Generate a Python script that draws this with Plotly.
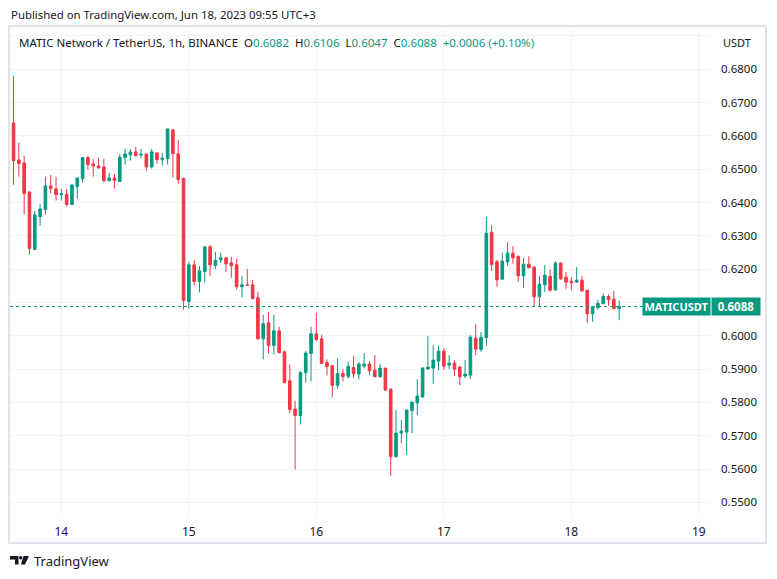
import plotly.graph_objects as go
import pandas as pd

# ---------------- data (1h candles, MATIC/USDT, UTC+3) ----------------
start_time = "2023-06-13 15:00"
opens = [0.6639, 0.6528, 0.6519, 0.6432, 0.6259, 0.6358, 0.6379, 0.6450, 0.6441, 0.6424,
         0.6425, 0.6394, 0.6448, 0.6472, 0.6535, 0.6516, 0.6510, 0.6507, 0.6466, 0.6474,
         0.6463, 0.6535, 0.6543, 0.6552, 0.6543, 0.6546, 0.6507, 0.6549, 0.6529, 0.6532,
         0.6618, 0.6546, 0.6472, 0.6103, 0.6213, 0.6163, 0.6193, 0.6267, 0.6211, 0.6228,
         0.6234, 0.6219, 0.6213, 0.6147, 0.6153, 0.6153, 0.6114, 0.5991, 0.6039, 0.5971,
         0.6015, 0.5952, 0.5865, 0.5780, 0.5761, 0.5889, 0.5947, 0.6006, 0.5991, 0.5920,
         0.5910, 0.5851, 0.5887, 0.5878, 0.5905, 0.5885, 0.5909, 0.5915, 0.5897, 0.5877,
         0.5903, 0.5840, 0.5637, 0.5708, 0.5711, 0.5775, 0.5799, 0.5816, 0.5900, 0.5903,
         0.5924, 0.5954, 0.5912, 0.5918, 0.5906, 0.5879, 0.5882, 0.5993, 0.5959, 0.5994,
         0.6311, 0.6222, 0.6170, 0.6222, 0.6248, 0.6239, 0.6180, 0.6215, 0.6206, 0.6117,
         0.6153, 0.6179, 0.6138, 0.6218, 0.6176, 0.6164, 0.6161, 0.6167, 0.6137, 0.6066,
         0.6084, 0.6096, 0.6118, 0.6110, 0.6082]
highs = [0.6781, 0.6580, 0.6540, 0.6432, 0.6375, 0.6396, 0.6477, 0.6483, 0.6477, 0.6441,
         0.6441, 0.6453, 0.6474, 0.6535, 0.6540, 0.6531, 0.6534, 0.6531, 0.6489, 0.6486,
         0.6546, 0.6561, 0.6561, 0.6567, 0.6561, 0.6546, 0.6561, 0.6549, 0.6549, 0.6621,
         0.6621, 0.6588, 0.6475, 0.6222, 0.6228, 0.6210, 0.6267, 0.6273, 0.6252, 0.6249,
         0.6237, 0.6237, 0.6231, 0.6180, 0.6201, 0.6168, 0.6132, 0.6063, 0.6072, 0.6063,
         0.6027, 0.5955, 0.5913, 0.5805, 0.5893, 0.5955, 0.6027, 0.6069, 0.6003, 0.5929,
         0.5910, 0.5932, 0.5899, 0.5923, 0.5939, 0.5921, 0.5948, 0.5924, 0.5942, 0.5915,
         0.5903, 0.5840, 0.5777, 0.5747, 0.5777, 0.5801, 0.5870, 0.5906, 0.5999, 0.5971,
         0.5971, 0.5963, 0.5942, 0.5927, 0.5909, 0.5927, 0.6002, 0.6035, 0.6011, 0.6357,
         0.6332, 0.6228, 0.6249, 0.6281, 0.6269, 0.6239, 0.6233, 0.6239, 0.6209, 0.6179,
         0.6212, 0.6200, 0.6224, 0.6221, 0.6191, 0.6176, 0.6206, 0.6179, 0.6137, 0.6087,
         0.6108, 0.6127, 0.6124, 0.6135, 0.6106]
lows = [0.6453, 0.6478, 0.6364, 0.6244, 0.6259, 0.6331, 0.6364, 0.6427, 0.6406, 0.6406,
        0.6388, 0.6394, 0.6412, 0.6460, 0.6499, 0.6478, 0.6502, 0.6460, 0.6463, 0.6442,
        0.6463, 0.6514, 0.6526, 0.6538, 0.6532, 0.6496, 0.6502, 0.6517, 0.6511, 0.6514,
        0.6475, 0.6457, 0.6078, 0.6082, 0.6151, 0.6130, 0.6160, 0.6180, 0.6201, 0.6219,
        0.6192, 0.6174, 0.6139, 0.6115, 0.6151, 0.6109, 0.5988, 0.5929, 0.5947, 0.5944,
        0.5947, 0.5857, 0.5767, 0.5598, 0.5734, 0.5860, 0.5863, 0.5983, 0.5917, 0.5881,
        0.5815, 0.5842, 0.5863, 0.5872, 0.5873, 0.5869, 0.5902, 0.5882, 0.5877, 0.5874,
        0.5835, 0.5580, 0.5634, 0.5678, 0.5643, 0.5708, 0.5762, 0.5816, 0.5900, 0.5856,
        0.5897, 0.5897, 0.5900, 0.5879, 0.5852, 0.5873, 0.5870, 0.5942, 0.5952, 0.5970,
        0.6194, 0.6147, 0.6170, 0.6210, 0.6216, 0.6162, 0.6144, 0.6204, 0.6089, 0.6087,
        0.6132, 0.6132, 0.6135, 0.6168, 0.6141, 0.6138, 0.6161, 0.6132, 0.6039, 0.6042,
        0.6078, 0.6096, 0.6090, 0.6081, 0.6047]
closes = [0.6526, 0.6517, 0.6427, 0.6262, 0.6363, 0.6381, 0.6450, 0.6442, 0.6424, 0.6426,
          0.6394, 0.6453, 0.6474, 0.6535, 0.6514, 0.6510, 0.6504, 0.6466, 0.6474, 0.6466,
          0.6536, 0.6546, 0.6552, 0.6541, 0.6545, 0.6507, 0.6552, 0.6529, 0.6534, 0.6621,
          0.6547, 0.6469, 0.6106, 0.6213, 0.6163, 0.6195, 0.6267, 0.6213, 0.6226, 0.6234,
          0.6216, 0.6210, 0.6147, 0.6153, 0.6151, 0.6112, 0.5991, 0.6036, 0.5971, 0.6015,
          0.5949, 0.5860, 0.5779, 0.5761, 0.5890, 0.5948, 0.6006, 0.5989, 0.5917, 0.5908,
          0.5851, 0.5887, 0.5878, 0.5908, 0.5886, 0.5915, 0.5915, 0.5895, 0.5877, 0.5903,
          0.5837, 0.5637, 0.5708, 0.5714, 0.5777, 0.5801, 0.5819, 0.5903, 0.5906, 0.5927,
          0.5954, 0.5909, 0.5918, 0.5900, 0.5877, 0.5885, 0.5996, 0.5960, 0.5995, 0.6308,
          0.6213, 0.6168, 0.6224, 0.6248, 0.6234, 0.6180, 0.6215, 0.6204, 0.6117, 0.6155,
          0.6182, 0.6137, 0.6218, 0.6171, 0.6161, 0.6159, 0.6167, 0.6135, 0.6066, 0.6087,
          0.6097, 0.6118, 0.6108, 0.6081, 0.6088]

day_ticks = ["2023-06-14", "2023-06-15", "2023-06-16", "2023-06-17", "2023-06-18", "2023-06-19"]
day_labels = ["14", "15", "16", "17", "18", "19"]
price_ticks = [0.55, 0.56, 0.57, 0.58, 0.59, 0.60, 0.61, 0.62, 0.63, 0.64, 0.65, 0.66, 0.67, 0.68, 0.69]
hidden_price_labels = [0.61, 0.69]  # covered by the last-price tag / the currency label

times = pd.date_range(start_time, periods=len(closes), freq="h")

GREEN = "#089981"
RED = "#F23645"
TXT = "#131722"
GRID = "#f0f3fa"
FONT = "Noto Sans"

W, H = 777, 579
PL, PR, PT, PB = 10, 710, 26, 515  # plot area in pixels


def px(x):
    return (x - PL) / (PR - PL)


def py(y):
    return (PB - y) / (PB - PT)


fig = go.Figure()
fig.add_trace(go.Candlestick(
    x=times, open=opens, high=highs, low=lows, close=closes,
    increasing=dict(line=dict(color=GREEN, width=1), fillcolor=GREEN),
    decreasing=dict(line=dict(color=RED, width=1), fillcolor=RED),
    whiskerwidth=0, hoverinfo="skip", showlegend=False,
))

last_close = closes[-1]
last_open = opens[-1]
chg = last_close - last_open

shapes = [
    # outer frame
    dict(type="rect", xref="paper", yref="paper", x0=px(9), x1=px(766), y0=py(543), y1=py(26),
         line=dict(color="#e0e3eb", width=2), layer="below"),
    # last price dotted line
    dict(type="line", xref="paper", yref="y", x0=0, x1=1, y0=last_close, y1=last_close,
         line=dict(color=GREEN, width=1, dash="dot")),
    # TradingView logo (approx.)
    dict(type="path", xref="paper", yref="paper",
         path=f"M {px(10)} {py(556)} L {px(18.5)} {py(556)} L {px(18.5)} {py(564.5)} L {px(15)} {py(564.5)} "
              f"L {px(15)} {py(559.5)} L {px(10)} {py(559.5)} Z",
         fillcolor=TXT, line=dict(width=0)),
    dict(type="circle", xref="paper", yref="paper", x0=px(19), x1=px(22.4), y0=py(559.5), y1=py(556),
         fillcolor=TXT, line=dict(width=0)),
    dict(type="path", xref="paper", yref="paper",
         path=f"M {px(23.5)} {py(556)} L {px(29)} {py(556)} L {px(25)} {py(564.5)} L {px(21)} {py(564.5)} Z",
         fillcolor=TXT, line=dict(width=0)),
]

legend_txt = (f"MATIC Network / TetherUS, 1h, BINANCE&nbsp;&nbsp;"
              f"O<span style='color:{GREEN}'>{opens[-1]:.4f}</span>&nbsp;&nbsp;"
              f"H<span style='color:{GREEN}'>{highs[-1]:.4f}</span>&nbsp;&nbsp;"
              f"L<span style='color:{GREEN}'>{lows[-1]:.4f}</span>&nbsp;&nbsp;"
              f"C<span style='color:{GREEN}'>{closes[-1]:.4f}</span>&nbsp;&nbsp;"
              f"<span style='color:{GREEN}'>{chg:+.4f} ({chg / last_open * 100:+.2f}%)</span>")

annotations = [
    dict(text="Published on TradingView.com, Jun 18, 2023 09:55 UTC+3", xref="paper", yref="paper",
         x=px(9), y=py(15), xanchor="left", yanchor="middle", showarrow=False,
         font=dict(family=FONT, size=11.4, color=TXT)),
    dict(text=legend_txt, xref="paper", yref="paper",
         x=px(17), y=py(42), xanchor="left", yanchor="middle", showarrow=False,
         font=dict(family=FONT, size=11.5, color=TXT)),
    dict(text="USDT", xref="paper", yref="paper",
         x=px(721), y=py(42), xanchor="left", yanchor="middle", showarrow=False,
         font=dict(family=FONT, size=11, color=TXT)),
    dict(text="<b>MATICUSDT</b>", xref="paper", yref="y", x=px(642), y=last_close,
         xanchor="left", yanchor="middle", showarrow=False, width=67, height=17,
         bgcolor=GREEN, borderpad=0, font=dict(family=FONT, size=11, color="white")),
    dict(text=f"<b>{last_close:.4f}</b>", xref="paper", yref="y", x=px(711), y=last_close,
         xanchor="left", yanchor="middle", showarrow=False, width=48, height=17,
         bgcolor=GREEN, borderpad=0, font=dict(family=FONT, size=11.5, color="white")),
    dict(text="TradingView", xref="paper", yref="paper",
         x=px(32), y=py(561), xanchor="left", yanchor="middle", showarrow=False,
         font=dict(family=FONT, size=13, color=TXT)),
]

ticktext_y = ["" if any(abs(v - h) < 1e-9 for h in hidden_price_labels) else f"{v:.4f}"
              for v in price_ticks]

fig.update_layout(
    width=W, height=H,
    margin=dict(l=PL, r=W - PR, t=PT, b=H - PB, pad=0),
    paper_bgcolor="white", plot_bgcolor="white",
    font=dict(family=FONT, color=TXT),
    shapes=shapes, annotations=annotations,
    xaxis=dict(
        type="date", range=["2023-06-13 14:20", "2023-06-19 02:06"],
        tickvals=day_ticks, ticktext=day_labels,
        showgrid=True, gridcolor=GRID, gridwidth=1,
        zeroline=False, showline=False, ticks="",
        ticklabelstandoff=8,
        tickfont=dict(family=FONT, size=12, color=TXT),
        rangeslider=dict(visible=False), fixedrange=True,
    ),
    yaxis=dict(
        side="right", range=[0.5462, 0.6930],
        tickvals=price_ticks, ticktext=ticktext_y,
        showgrid=True, gridcolor=GRID, gridwidth=1,
        zeroline=False, showline=False, ticks="",
        ticklabelstandoff=10,
        tickfont=dict(family=FONT, size=11.5, color=TXT),
        fixedrange=True,
    ),
    hovermode=False,
)

fig.write_html("out.html", config={"displayModeBar": False})
